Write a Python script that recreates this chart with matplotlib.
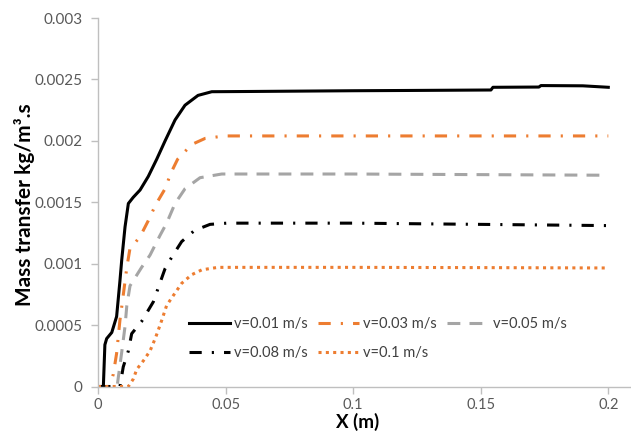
import matplotlib
matplotlib.use("Agg")
import matplotlib.pyplot as plt

plt.rcParams['font.family'] = ['Lato', 'DejaVu Sans']

# ---- data ----
x_v001 = [0, 0.0021, 0.0027, 0.0034, 0.0054, 0.0073, 0.0086, 0.0093, 0.0106, 0.0119,
          0.0138, 0.0165, 0.0197, 0.0230, 0.0263, 0.0302, 0.0341, 0.0392, 0.0446, 0.06,
          0.08, 0.1, 0.12, 0.1540, 0.1548, 0.1728, 0.1736, 0.19, 0.2]
y_v001 = [0, 0, 0.00034, 0.00039, 0.00044, 0.00057, 0.00086, 0.00103, 0.0013, 0.00149,
          0.00154, 0.0016, 0.00171, 0.00185, 0.002, 0.00217, 0.00229, 0.00237, 0.0024, 0.002402,
          0.002405, 0.002408, 0.00241, 0.002414, 0.002436, 0.002438, 0.00245, 0.002448, 0.002436]

x_v003 = [0, 0.0045, 0.006, 0.0073, 0.0086, 0.0095, 0.0113, 0.0125, 0.0165, 0.0197,
          0.0226, 0.0263, 0.0286, 0.0312, 0.0367, 0.042, 0.0498, 0.1, 0.15, 0.2]
y_v003 = [0, 0, 0.0001, 0.00027, 0.00054, 0.00068, 0.00097, 0.00112, 0.00122, 0.00135,
          0.00148, 0.00161, 0.00174, 0.00185, 0.00197, 0.00202, 0.00204, 0.00204, 0.00204, 0.00204]

x_v005 = [0, 0.0075, 0.008, 0.0093, 0.0106, 0.0113, 0.01255, 0.0171, 0.0204, 0.0243,
          0.0269, 0.0302, 0.0341, 0.04, 0.0485, 0.1, 0.15, 0.2]
y_v005 = [0, 0, 0.00008, 0.00028, 0.00049, 0.00066, 0.00082, 0.00097, 0.00107, 0.00123,
          0.00133, 0.00149, 0.00161, 0.0017, 0.00173, 0.00173, 0.001725, 0.00172]

x_v008 = [0, 0.0086, 0.0099, 0.0119, 0.0132, 0.0171, 0.0217, 0.0256, 0.0263, 0.0291,
          0.0328, 0.0378, 0.0439, 0.0505, 0.1, 0.15, 0.2]
y_v008 = [0, 0, 0.00016, 0.00029, 0.00043, 0.00053, 0.00069, 0.00092, 0.00096, 0.00106,
          0.00118, 0.00127, 0.00132, 0.00133, 0.00133, 0.00132, 0.00131]

x_v01 = [0, 0.0119, 0.0138, 0.0152, 0.0178, 0.0204, 0.0226, 0.025, 0.0269, 0.0295,
         0.0328, 0.0367, 0.0407, 0.047, 0.1, 0.15, 0.2]
y_v01 = [0, 0, 0.00006, 0.00014, 0.00021, 0.00029, 0.0004, 0.00054, 0.00066, 0.00074,
         0.00084, 0.00091, 0.00095, 0.00097, 0.00097, 0.000968, 0.000965]

labels = ["v=0.01 m/s", "v=0.03 m/s", "v=0.05 m/s", "v=0.08 m/s", "v=0.1 m/s"]
x_ticks = [0, 0.05, 0.1, 0.15, 0.2]
x_ticklabels = ["0", "0.05", "0.1", "0.15", "0.2"]
y_ticks = [0, 0.0005, 0.001, 0.0015, 0.002, 0.0025, 0.003]
y_ticklabels = ["0", "0.0005", "0.001", "0.0015", "0.002", "0.0025", "0.003"]

ORANGE = "#ED7D31"
GRAY = "#A5A5A5"

fig = plt.figure(figsize=(6.31, 4.32), dpi=100)
ax = fig.add_axes([0.1553, 0.1053, 0.8447, 0.853])

lw = 2.2
h1, = ax.plot(x_v001, y_v001, color="black", lw=lw, solid_joinstyle="round")
h2, = ax.plot(x_v003, y_v003, color=ORANGE, lw=lw, dashes=(4, 3.3, 0.7, 3.3))
h3, = ax.plot(x_v005, y_v005, color=GRAY, lw=lw, dashes=(4.2, 3))
h4, = ax.plot(x_v008, y_v008, color="black", lw=lw, dashes=(4, 3.3, 0.7, 3.3))
h5, = ax.plot(x_v01, y_v01, color=ORANGE, lw=lw, dashes=(1, 1.4))

ax.set_xlim(0, 0.2089)
ax.set_ylim(0, 0.003)
ax.set_xticks(x_ticks)
ax.set_xticklabels(x_ticklabels)
ax.set_yticks(y_ticks)
ax.set_yticklabels(y_ticklabels)

for s in ["top", "right"]:
    ax.spines[s].set_visible(False)
for s in ["left", "bottom"]:
    ax.spines[s].set_color("#BFBFBF")
    ax.spines[s].set_linewidth(1.0)
ax.tick_params(axis="both", direction="out", length=5, width=1.0, color="#BFBFBF",
               labelcolor="#595959", labelsize=11, pad=6)
ax.tick_params(axis="x", pad=3, labelsize=10.5)

fig.text(358 / 631, 1 / 432, "X (m)", fontsize=13.5, fontweight="bold",
         color="black", ha="center", va="bottom")
fig.text(25 / 631, 1 - 205 / 432, "Mass transfer kg/m³.s", fontsize=15, fontweight="bold",
         color="black", ha="center", va="center", rotation=90)

handles = [h1, h4, h2, h5, h3]
hl = [labels[0], labels[3], labels[1], labels[4], labels[2]]
leg = ax.legend(handles, hl, ncol=3, frameon=False, fontsize=10.5,
                loc="upper left", bbox_to_anchor=(0.16, 0.205),
                handlelength=2.8, handletextpad=0.3, columnspacing=0.7,
                labelspacing=1.05, borderaxespad=0)
for t in leg.get_texts():
    t.set_color("#404040")

fig.savefig("out.png", dpi=100)
